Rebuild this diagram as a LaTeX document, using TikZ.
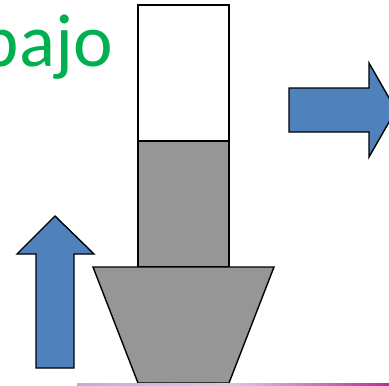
\documentclass[tikz,border=0pt]{standalone}
\usepackage{fontspec}
\newfontfamily\calfont{Carlito}
\definecolor{txtgreen}{RGB}{0,176,80}
\definecolor{arrowblue}{RGB}{79,129,189}
\definecolor{shapegray}{RGB}{150,150,150}
\definecolor{barleft}{RGB}{200,170,212}
\definecolor{barmid}{RGB}{222,196,228}
\definecolor{barright}{RGB}{186,48,150}
\tikzset{
  outl/.style={draw=black, line width=1.4pt, line join=miter},
  bluearrow/.style={outl, fill=arrowblue},
  grayshape/.style={outl, fill=shapegray},
}
\begin{document}
\begin{tikzpicture}[x=1pt,y=-1pt]
\useasboundingbox (0,0) rectangle (389,386);
\clip (0,0) rectangle (389,386);
% title text
\node[anchor=base east, inner sep=0pt, text=txtgreen, font=\calfont\fontsize{75}{90}\selectfont] (title) at (113,66) {bajo};
% column
\draw[outl, fill=white] (138,5) rectangle (229,141);
\draw[grayshape] (138,141) rectangle (229,267);
% trapezoid base
\draw[grayshape] (93,267) -- (274,267) -- (229,383) -- (138,383) -- cycle;
% up arrow
\draw[bluearrow] (55,216) -- (94,254) -- (74,254) -- (74,368) -- (36,368) -- (36,254) -- (17,254) -- cycle;
% right arrow
\draw[bluearrow] (289,88) -- (369,88) -- (369,63) -- (396,110) -- (369,157) -- (369,132) -- (289,132) -- cycle;
% bottom bar
\shade[left color=barleft, right color=barright, middle color=barmid] (77,383.5) rectangle (389,386);
\end{tikzpicture}
\end{document}
